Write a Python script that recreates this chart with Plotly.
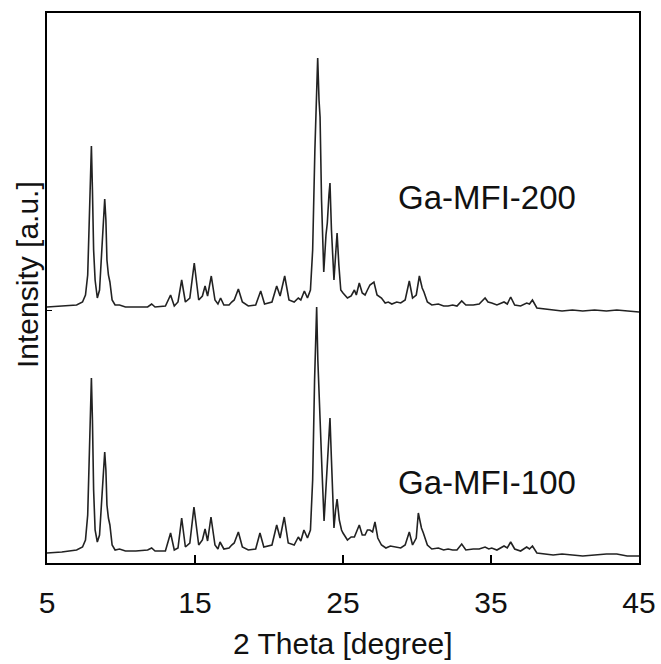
import plotly.graph_objects as go

# ---- Data (2 Theta in degrees, intensity in a.u.) ----
two_theta_200 = [5.0, 6.0, 7.0, 7.4, 7.6, 7.75, 7.85, 7.93, 8.0, 8.07, 8.15, 8.25, 8.4, 8.55, 8.7, 8.82, 8.9,
                 8.98, 9.05, 9.15, 9.25, 9.4, 9.6, 9.9, 10.3, 11.0, 11.8, 12.07, 12.3, 13.0, 13.35, 13.6,
                 13.85, 14.1, 14.35, 14.65, 14.95, 15.25, 15.5, 15.68, 15.85, 16.1, 16.35, 16.55, 16.73,
                 16.95, 17.3, 17.48, 17.65, 17.93, 18.2, 18.6, 19.1, 19.44, 19.7, 20.2, 20.52, 20.75,
                 21.06, 21.35, 21.7, 21.98, 22.15, 22.39, 22.6, 22.8, 22.95, 23.1, 23.22, 23.29, 23.38,
                 23.45, 23.55, 23.7, 23.85, 23.94, 24.05, 24.12, 24.22, 24.39, 24.5, 24.6, 24.72, 24.85,
                 25.0, 25.3, 25.55, 25.77, 25.9, 26.1, 26.3, 26.49, 26.65, 26.82, 27.09, 27.3, 27.6,
                 27.85, 28.06, 28.3, 28.63, 28.9, 29.2, 29.48, 29.7, 29.95, 30.16, 30.35, 30.47, 30.7,
                 31.0, 31.44, 31.8, 32.1, 32.41, 32.7, 33.02, 33.3, 33.8, 34.2, 34.6, 34.8, 35.05, 35.4,
                 35.88, 36.1, 36.33, 36.6, 37.0, 37.41, 37.6, 37.8, 38.1, 38.6, 39.2, 39.8, 40.5, 41.2,
                 42.0, 42.8, 43.5, 44.2, 45.0]
intensity_200 = [11, 12, 13, 16, 23, 43, 88, 138, 172, 128, 68, 38, 20, 28, 68, 103, 119,
                 98, 58, 43, 36, 18, 13, 13, 11, 11, 11, 14, 11, 12, 23, 12,
                 16, 38, 16, 20, 55, 18, 22, 32, 22, 42, 18, 14, 20,
                 13, 13, 16, 18, 29, 16, 12, 13, 27, 14, 16, 32, 22,
                 42, 18, 16, 20, 18, 27, 20, 28, 68, 168, 243, 260, 218,
                 201, 118, 46, 83, 95, 123, 135, 88, 38, 63, 85, 53, 28,
                 25, 20, 22, 28, 23, 35, 25, 23, 28, 33, 36, 23, 20,
                 15, 16, 14, 16, 15, 18, 37, 20, 23, 42, 30, 26, 16,
                 13, 14, 12, 12, 13, 12, 17, 13, 13, 14, 20, 16, 15, 13,
                 16, 14, 21, 13, 12, 15, 14, 18, 10, 9, 8, 7, 8, 7,
                 8, 7, 8, 7, 6]

two_theta_100 = [5.0, 6.0, 7.0, 7.4, 7.6, 7.75, 7.85, 7.93, 8.0, 8.07, 8.15, 8.25, 8.4, 8.55, 8.7, 8.82, 8.9,
                 8.98, 9.05, 9.15, 9.25, 9.4, 9.6, 9.9, 10.3, 11.0, 11.8, 12.07, 12.3, 13.0, 13.35, 13.6,
                 13.85, 14.1, 14.35, 14.65, 14.93, 15.25, 15.5, 15.68, 15.85, 16.08, 16.35, 16.55, 16.69,
                 16.95, 17.3, 17.48, 17.65, 17.93, 18.2, 18.6, 19.1, 19.39, 19.65, 20.2, 20.52, 20.75,
                 21.03, 21.3, 21.7, 21.98, 22.15, 22.36, 22.6, 22.8, 22.95, 23.08, 23.16, 23.22, 23.3,
                 23.4, 23.47, 23.58, 23.72, 23.85, 23.92, 24.03, 24.12, 24.22, 24.39, 24.5, 24.6, 24.75,
                 24.9, 25.0, 25.3, 25.55, 25.77, 26.1, 26.3, 26.49, 26.65, 26.82, 27.0, 27.16, 27.35,
                 27.6, 27.9, 28.2, 28.63, 28.9, 29.2, 29.48, 29.7, 29.95, 30.09, 30.3, 30.43, 30.7,
                 31.0, 31.44, 31.8, 32.1, 32.41, 32.7, 33.02, 33.3, 33.8, 34.2, 34.6, 34.85, 35.05, 35.4,
                 35.88, 36.1, 36.33, 36.6, 37.0, 37.41, 37.6, 37.8, 38.1, 38.6, 39.2, 39.8, 40.5, 41.2,
                 42.0, 42.8, 43.5, 44.2, 45.0]
intensity_100 = [10, 11, 13, 16, 23, 48, 103, 153, 185, 143, 73, 33, 21, 28, 63, 98, 111,
                 93, 58, 45, 38, 18, 13, 14, 12, 12, 13, 15, 12, 12, 30, 13,
                 15, 45, 16, 20, 56, 18, 23, 34, 22, 46, 18, 14, 21,
                 14, 15, 18, 20, 31, 16, 13, 14, 30, 16, 18, 38, 25,
                 46, 20, 18, 26, 22, 33, 25, 33, 83, 183, 233, 256, 203,
                 155, 143, 93, 42, 78, 91, 123, 145, 103, 35, 53, 64, 43,
                 33, 30, 23, 26, 26, 38, 28, 28, 33, 33, 31, 41, 25,
                 18, 15, 17, 16, 15, 18, 31, 18, 25, 50, 35, 30, 18,
                 14, 15, 13, 14, 13, 13, 19, 13, 14, 14, 16, 14, 15, 13,
                 17, 15, 21, 14, 12, 16, 14, 17, 10, 9, 8, 9, 8, 7,
                 8, 9, 9, 7, 7]

offset_200 = 245  # vertical stacking offset of the upper pattern
sample_labels = ["Ga-MFI-200", "Ga-MFI-100"]
label_x = [34.7, 34.7]
label_y = [366, 81]
x_ticks = [5, 15, 25, 35, 45]
x_title = "2 Theta [degree]"
y_title = "Intensity [a.u.]"

FONT = "Liberation Sans, Arial, sans-serif"
LINE = "#222222"
TXT = "#111111"

fig = go.Figure()
fig.add_trace(go.Scatter(x=two_theta_200, y=[v + offset_200 for v in intensity_200],
                         mode="lines", line=dict(color=LINE, width=1.6), name=sample_labels[0]))
fig.add_trace(go.Scatter(x=two_theta_100, y=intensity_100,
                         mode="lines", line=dict(color=LINE, width=1.6), name=sample_labels[1]))

for txt, lx, ly in zip(sample_labels, label_x, label_y):
    fig.add_annotation(x=lx, y=ly, text=txt, showarrow=False,
                       font=dict(family=FONT, size=33, color=TXT),
                       xanchor="center", yanchor="middle")

# axis titles as paper-anchored annotations
fig.add_annotation(xref="paper", yref="paper", x=0.5, y=0, yshift=-80, text=x_title,
                   showarrow=False, xanchor="center", yanchor="middle",
                   font=dict(family=FONT, size=30, color=TXT))
fig.add_annotation(xref="paper", yref="paper", x=0, y=0.5, xshift=-20, yshift=13, text=y_title,
                   textangle=-90, showarrow=False, xanchor="center", yanchor="middle",
                   font=dict(family=FONT, size=30, color=TXT))

fig.update_layout(
    width=661, height=664,
    margin=dict(l=47, r=22, t=13, b=101, autoexpand=False),
    paper_bgcolor="white", plot_bgcolor="white",
    showlegend=False,
    font=dict(family=FONT, color=TXT),
)
fig.update_xaxes(range=[5, 45], tickvals=x_ticks, ticktext=[str(t) for t in x_ticks],
                 ticks="inside", ticklen=8, tickwidth=2, tickcolor="black",
                 showline=True, linecolor="black", linewidth=2, mirror=True,
                 showgrid=False, zeroline=False, automargin=False,
                 tickfont=dict(family=FONT, size=30, color=TXT),
                 ticklabelstandoff=12)
fig.update_yaxes(range=[0, 550], tickvals=[253], showticklabels=False,
                 ticks="inside", ticklen=5, tickwidth=1, tickcolor="black",
                 showline=True, linecolor="black", linewidth=2, mirror=True,
                 showgrid=False, zeroline=False, automargin=False)

fig.write_html("out.html", config={"displayModeBar": False},
               post_script="document.body.style.margin='0';document.body.style.overflow='hidden';")
